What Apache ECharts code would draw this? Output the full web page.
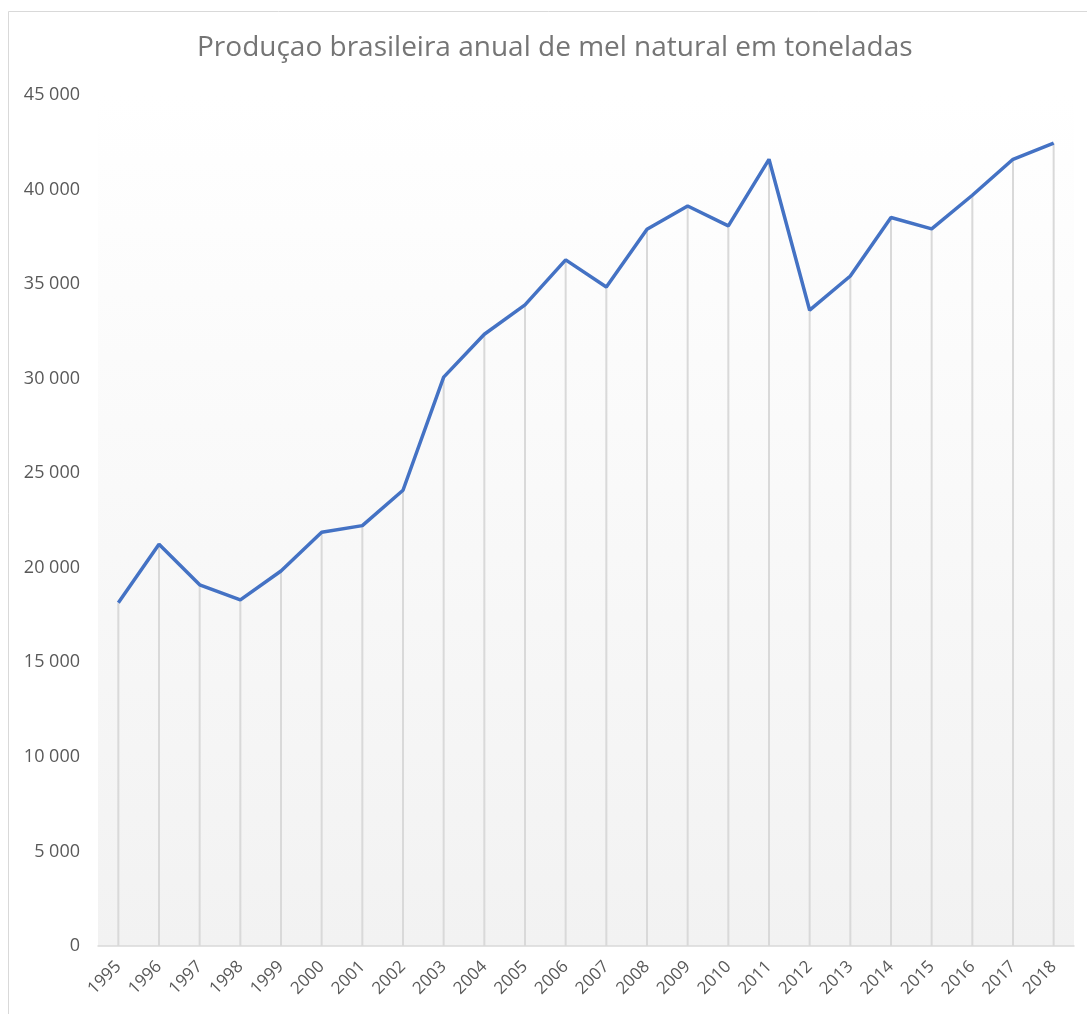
<!DOCTYPE html>
<html>
<head>
<meta charset="utf-8">
<script src="https://cdn.jsdelivr.net/npm/echarts@6/dist/echarts.min.js"></script>
<style>
  html, body { margin: 0; padding: 0; background: #fff; }
  #main { width: 1087px; height: 1014px; }
</style>
</head>
<body>
<div id="main"></div>
<script>
var years = ['1995', '1996', '1997', '1998', '1999', '2000', '2001', '2002', '2003', '2004', '2005', '2006',
  '2007', '2008', '2009', '2010', '2011', '2012', '2013', '2014', '2015', '2016', '2017', '2018'];
var producao = [18150, 21250, 19100, 18300, 19830, 21880, 22230, 24100, 30080, 32350, 33900, 36280,
  34850, 37900, 39130, 38080, 41600, 33620, 35430, 38520, 37920, 39700, 41600, 42450];

var myChart = echarts.init(document.getElementById('main'));
var option = {
  backgroundColor: '#fff',
  animation: false,
  title: {
    text: 'Produçao brasileira anual de mel natural em toneladas',
    left: 192,
    top: 29,
    textStyle: {
      color: '#757575',
      fontSize: 28,
      fontWeight: 'normal',
      fontFamily: 'Open Sans'
    }
  },
  graphic: [{
    type: 'rect',
    shape: { x: 8.5, y: 11.5, width: 1100, height: 1020 },
    style: { fill: 'none', stroke: '#d9d9d9', lineWidth: 1 },
    z: -10
  }],
  grid: {
    left: 98,
    right: 13,
    top: 95,
    bottom: 68,
    show: true,
    borderWidth: 0,
    backgroundColor: new echarts.graphic.LinearGradient(0, 0, 0, 1, [
      { offset: 0, color: '#ffffff' },
      { offset: 1, color: '#f2f2f2' }
    ])
  },
  xAxis: {
    type: 'category',
    data: years,
    boundaryGap: true,
    axisTick: { show: false },
    axisLine: { lineStyle: { color: '#d9d9d9', width: 1.5 } },
    axisLabel: {
      rotate: 45,
      color: '#595959',
      fontSize: 17,
      fontFamily: 'Open Sans',
      margin: 18,
      interval: 0
    }
  },
  yAxis: {
    type: 'value',
    min: 0,
    max: 45000,
    interval: 5000,
    axisLine: { show: false },
    axisTick: { show: false },
    splitLine: { show: false },
    axisLabel: {
      color: '#595959',
      fontSize: 18,
      fontFamily: 'Open Sans',
      margin: 18,
      formatter: function (v) {
        return String(v).replace(/\B(?=(\d{3})+(?!\d))/g, ' ');
      }
    }
  },
  series: [{
    // linhas de chamada
    type: 'bar',
    data: producao,
    barWidth: 2,
    silent: true,
    itemStyle: { color: '#d9d9d9' },
    z: 1
  }, {
    type: 'line',
    data: producao,
    showSymbol: false,
    lineStyle: { color: '#4472C4', width: 3.5 },
    z: 3
  }]
};
myChart.setOption(option);
</script>
</body>
</html>
